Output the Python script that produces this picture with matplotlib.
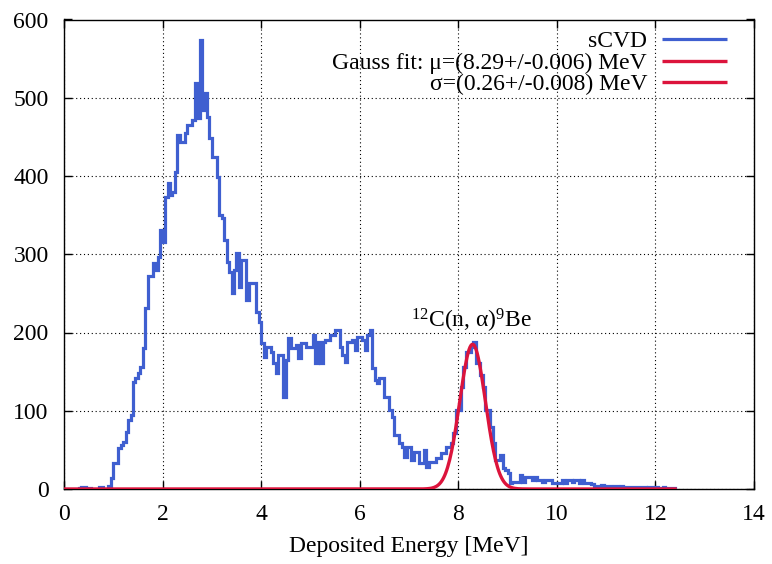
import numpy as np
import matplotlib
matplotlib.use("Agg")
import matplotlib.pyplot as plt
from matplotlib.lines import Line2D

# ---- data ----
bin_width = 0.05  # MeV
counts = [
    0, 0, 0, 0, 0, 0, 1, 2, 2, 1,                       # 0.0-0.5
    1, 0, 0, 0, 2, 2, 0, 0, 4, 14,                      # 0.5-1.0
    33, 33, 52, 56, 60, 73, 88, 95, 137, 142,           # 1.0-1.5
    148, 156, 180, 231, 272, 272, 289, 280, 297, 331,   # 1.5-2.0
    316, 373, 391, 376, 380, 405, 452, 443, 443, 455,   # 2.0-2.5
    465, 465, 471, 519, 474, 574, 484, 506, 476, 448,   # 2.5-3.0
    424, 424, 399, 350, 346, 318, 290, 277, 250, 280,   # 3.0-3.5
    302, 258, 293, 293, 241, 263, 263, 263, 226, 213,   # 3.5-4.0
    186, 169, 182, 182, 175, 161, 148, 171, 171, 118,   # 4.0-4.5
    165, 193, 180, 180, 184, 168, 186, 186, 182, 182,   # 4.5-5.0
    182, 197, 161, 188, 161, 188, 190, 190, 197, 197,   # 5.0-5.5
    203, 203, 182, 171, 162, 188, 188, 190, 178, 194,   # 5.5-6.0
    194, 190, 178, 197, 203, 155, 139, 135, 142, 142,   # 6.0-6.5
    118, 118, 101, 92, 69, 69, 59, 54, 41, 54,          # 6.5-7.0
    54, 37, 47, 47, 33, 33, 50, 28, 35, 35,             # 7.0-7.5
    35, 40, 40, 46, 46, 54, 54, 59, 72, 101,            # 7.5-8.0
    101, 130, 156, 175, 175, 182, 188, 161, 161, 146,   # 8.0-8.5
    130, 101, 101, 79, 59, 37, 37, 43, 27, 24,          # 8.5-9.0
    20, 8, 9, 9, 9, 18, 9, 15, 15, 15,                  # 9.0-9.5
    12, 15, 12, 12, 9, 12, 12, 12, 8, 8,                # 9.5-10.0
    8, 8, 12, 8, 12, 12, 9, 12, 12, 8,                  # 10.0-10.5
    12, 8, 8, 8, 6, 4, 4, 4, 5, 4,                      # 10.5-11.0
    4, 4, 3, 4, 4, 3, 4, 3, 3, 2,                       # 11.0-11.5
    2, 2, 3, 2, 2, 2, 1, 2, 2, 2,                       # 11.5-12.0
    2, 1, 1, 2, 1, 1, 1, 1,                             # 12.0-12.4
]
edges = np.arange(len(counts) + 1) * bin_width

# Gauss fit parameters
gauss_amp = 185.0
gauss_mu = 8.29
gauss_sigma = 0.26
fit_range = (0.0, 12.4)

xticks = [0, 2, 4, 6, 8, 10, 12, 14]
yticks = [0, 100, 200, 300, 400, 500, 600]

legend_labels = ['sCVD', 'Gauss fit: μ=(8.29+/-0.006) MeV', 'σ=(0.26+/-0.008) MeV']

# ---- style ----
plt.rcParams['font.family'] = ['Liberation Serif', 'DejaVu Serif']
plt.rcParams['mathtext.fontset'] = 'custom'
plt.rcParams['mathtext.rm'] = 'Liberation Serif'
plt.rcParams['mathtext.it'] = 'Liberation Serif:italic'
plt.rcParams['mathtext.bf'] = 'Liberation Serif:bold'

fig = plt.figure(figsize=(7.72, 5.64), dpi=100)
ax = fig.add_axes([64 / 772, 1 - 489 / 564, (754 - 64) / 772, (489 - 19.5) / 564])

blue = '#3f5fd0'
red = '#dc143c'
lw_blue = 2.3
lw_red = 2.4

ax.stairs(counts, edges, color=blue, linewidth=lw_blue, zorder=3)

xf = np.linspace(fit_range[0], fit_range[1], 600)
yf = gauss_amp * np.exp(-0.5 * ((xf - gauss_mu) / gauss_sigma) ** 2)
ax.plot(xf, yf, color=red, linewidth=lw_red, zorder=4)

ax.set_xlim(0, 14)
ax.set_ylim(0, 600)
ax.set_xticks(xticks)
ax.set_yticks(yticks)
ax.tick_params(direction='in', length=6, width=1, top=True, right=True, labelsize=17)
ax.tick_params(axis='x', pad=11)
ax.tick_params(axis='y', pad=11)
ax.grid(True, color='black', linestyle=(0, (1, 2.5)), linewidth=0.8)
for s in ax.spines.values():
    s.set_linewidth(1.0)

ax.set_xlabel('Deposited Energy [MeV]', fontsize=17, labelpad=8)

ax.text(8.26, 206, r'$^{12}$C(n, α)$^{9}$Be', fontsize=17, ha='center', va='baseline')

handles = [Line2D([], [], color=blue, linewidth=lw_blue, solid_capstyle='butt'),
           Line2D([], [], color=red, linewidth=lw_red, solid_capstyle='butt'),
           Line2D([], [], color=red, linewidth=lw_red, solid_capstyle='butt')]
leg = ax.legend(handles, legend_labels, loc='upper right', frameon=False, markerfirst=False,
                fontsize=17, handlelength=2.75, handletextpad=0.65, labelspacing=0.0,
                borderaxespad=0.0, bbox_to_anchor=(0.975, 0.996))

fig.savefig('out.png', dpi=100)
